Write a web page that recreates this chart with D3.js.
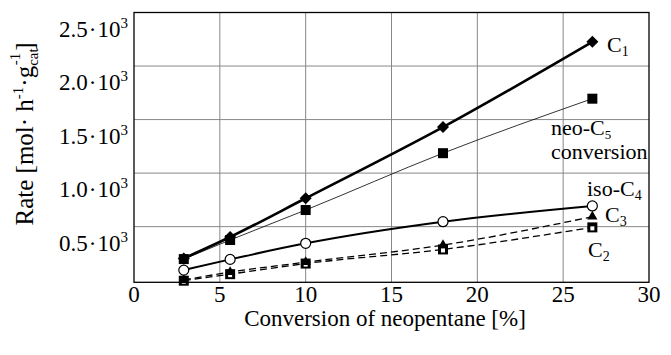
<!DOCTYPE html>
<html><head><meta charset="utf-8">
<script src="https://cdn.jsdelivr.net/npm/d3@7"></script>
<style>body{margin:0;background:#fff}svg{display:block}</style>
</head><body><svg id="c" width="671" height="355" font-family="Liberation Serif"></svg>
<script>
const conversion = [2.9, 5.6, 10.0, 18.0, 26.7];
const rateC1 = [203, 403, 765, 1430, 2226];
const rateNeoC5 = [197, 375, 655, 1186, 1695];
const rateIsoC4 = [94, 194, 344, 546, 693];
const rateC3 = [2, 75, 168, 328, 593];
const rateC2 = [-5, 56, 155, 287, 493];
const xTicks = [0, 5, 10, 15, 20, 25, 30];
const yTicks = [500, 1000, 1500, 2000, 2500];

const FONT = "Liberation Serif";
const svg = d3.select("#c");
const x = d3.scaleLinear().domain([0, 30]).range([134, 649]);
const y = d3.scaleLinear().domain([-20, 2500]).range([282.3, 12.5]);

// grid
svg.append("g").selectAll("line").data(xTicks.slice(1, -1)).join("line")
  .attr("x1", d => x(d)).attr("x2", d => x(d)).attr("y1", y(2500)).attr("y2", y(-20))
  .attr("stroke", "#888").attr("stroke-width", 1);
svg.append("g").selectAll("line").data(yTicks.slice(0, -1)).join("line")
  .attr("y1", d => y(d)).attr("y2", d => y(d)).attr("x1", x(0)).attr("x2", x(30))
  .attr("stroke", "#888").attr("stroke-width", 1);

// lines
const series = [
  {vals: rateC1, sw: 2.6, dash: null},
  {vals: rateNeoC5, sw: 0.8, dash: null},
  {vals: rateIsoC4, sw: 2.0, dash: null},
  {vals: rateC3, sw: 1.3, dash: "7,4"},
  {vals: rateC2, sw: 1.3, dash: "7,4"}
];
const line = d3.line().x(d => x(d[0])).y(d => y(d[1])).curve(d3.curveMonotoneX);
series.forEach(s => {
  svg.append("path").datum(conversion.map((c, i) => [c, s.vals[i]]))
    .attr("d", line).attr("fill", "none").attr("stroke", "#000")
    .attr("stroke-width", s.sw).attr("stroke-dasharray", s.dash);
});

// markers
function pts(vals) { return conversion.map((c, i) => [x(c), y(vals[i])]); }
svg.append("g").selectAll("rect").data(pts(rateNeoC5)).join("rect")
  .attr("x", d => d[0] - 5).attr("y", d => d[1] - 5).attr("width", 10).attr("height", 10).attr("fill", "#000");
svg.append("g").selectAll("path").data(pts(rateC1)).join("path")
  .attr("d", d => `M${d[0]},${d[1]-6}L${d[0]+6},${d[1]}L${d[0]},${d[1]+6}L${d[0]-6},${d[1]}Z`).attr("fill", "#000");
svg.append("g").selectAll("rect").data(pts(rateC2)).join("rect")
  .attr("x", d => d[0] - 5).attr("y", d => d[1] - 5).attr("width", 10).attr("height", 10).attr("fill", "#000");
svg.append("g").selectAll("rect").data(pts(rateC2)).join("rect")
  .attr("x", d => d[0] - 2).attr("y", d => d[1] - 1).attr("width", 4).attr("height", 4).attr("fill", "#fff");
svg.append("g").selectAll("path").data(pts(rateC3)).join("path")
  .attr("transform", d => `translate(${d[0]},${d[1]})`)
  .attr("d", d3.symbol().type(d3.symbolTriangle).size(45)).attr("fill", "#000");
svg.append("g").selectAll("circle").data(pts(rateIsoC4)).join("circle")
  .attr("cx", d => d[0]).attr("cy", d => d[1]).attr("r", 5)
  .attr("fill", "#fff").attr("stroke", "#000").attr("stroke-width", 1.2);

// frame
svg.append("rect").attr("x", x(0)).attr("y", y(2500)).attr("width", x(30) - x(0)).attr("height", y(-20) - y(2500))
  .attr("fill", "none").attr("stroke", "#000").attr("stroke-width", 1.3);

// x tick labels
svg.append("g").selectAll("text").data(xTicks).join("text")
  .attr("font-family", FONT)
  .attr("x", d => x(d)).attr("y", 302).attr("text-anchor", "middle").attr("font-size", 23).text(d => d);
svg.append("text").attr("font-family", FONT).attr("x", 385).attr("y", 326).attr("text-anchor", "middle").attr("font-size", 23)
  .text("Conversion of neopentane [%]");

// y tick labels
const yl = svg.append("g").selectAll("text").data(yTicks).join("text")
  .attr("font-family", FONT)
  .attr("x", 128).attr("y", d => y(d) + 24).attr("text-anchor", "end").attr("font-size", 23);
yl.append("tspan").text(d => (d / 1000).toFixed(1));
yl.append("tspan").attr("dx", 1).text("·");
yl.append("tspan").attr("dx", 1).text("10");
yl.append("tspan").attr("font-size", 15).attr("dy", -9).text("3");

// y title
const yt = svg.append("text").attr("font-family", FONT).attr("transform", "translate(33,134) rotate(-90)")
  .attr("text-anchor", "middle").attr("font-size", 25);
yt.append("tspan").text("Rate [mol· h");
yt.append("tspan").attr("font-size", 15).attr("dy", -10).text("-1");
yt.append("tspan").attr("dy", 10).text("·g");
yt.append("tspan").attr("font-size", 15).attr("dy", 5).text("cat");
yt.append("tspan").attr("font-size", 15).attr("dx", -17).attr("dy", -18).text("-1");
yt.append("tspan").attr("dx", 2).attr("dy", 13).text("]");

// series labels
function lab(px, py, main, sub, subSize) {
  const t = svg.append("text").attr("font-family", FONT).attr("x", px).attr("y", py).attr("font-size", 22);
  t.append("tspan").text(main);
  if (sub) t.append("tspan").attr("font-size", subSize || 14).attr("dy", 4).text(sub);
  return t;
}
lab(607, 52, "C", "1");
lab(551, 135, "neo-C", "5", 13);
lab(551, 159, "conversion");
lab(587, 196, "iso-C", "4");
lab(605, 222, "C", "3");
lab(588, 257, "C", "2");
</script></body></html>
